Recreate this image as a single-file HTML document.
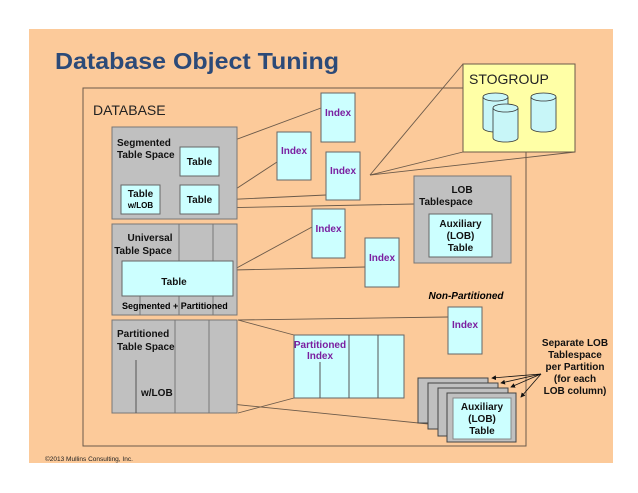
<!DOCTYPE html>
<html><head><meta charset="utf-8"><style>
html,body{margin:0;padding:0;background:#fff;}
svg{display:block;}
text{font-family:"Liberation Sans",Arial,sans-serif;}
.b{font-weight:bold;font-size:10px;fill:#111;}
.ix{font-weight:bold;font-size:10px;fill:#7a1fa0;}
</style></head><body>
<svg width="638" height="493" viewBox="0 0 638 493" xmlns="http://www.w3.org/2000/svg">
<defs><marker id="ar" markerWidth="6" markerHeight="6" refX="5" refY="3" orient="auto"><path d="M0,0 L6,3 L0,6 z" fill="#111"/></marker></defs>
<rect x="29" y="29" width="584" height="434" fill="#fcca9a"/>
<text x="55" y="69" font-family="DejaVu Sans,sans-serif" font-weight="bold" font-size="23" fill="#2c4a78" textLength="284" lengthAdjust="spacingAndGlyphs">Database Object Tuning</text>
<rect x="83" y="88" width="443" height="358" fill="none" stroke="#6b5a4a" stroke-width="1"/>
<text x="93" y="115" font-size="14" fill="#222">DATABASE</text>
<g stroke="#6b5a4a" stroke-width="0.9" fill="none">
<line x1="216" y1="147" x2="321" y2="108"/>
<line x1="219" y1="200" x2="277" y2="162"/>
<line x1="219" y1="200" x2="326" y2="195"/>
<line x1="161" y1="209" x2="414" y2="204"/>
<line x1="233" y1="270" x2="312" y2="227"/>
<line x1="233" y1="270" x2="365" y2="267"/>
<line x1="238" y1="320" x2="448" y2="317"/>
<line x1="238" y1="320" x2="294" y2="335"/>
<line x1="238" y1="413" x2="294" y2="398"/>
<line x1="172" y1="398" x2="448" y2="426"/>
<line x1="370" y1="175" x2="463" y2="64"/>
<line x1="370" y1="175" x2="463" y2="152"/>
<line x1="370" y1="175" x2="575" y2="152"/>
</g>
<!-- STOGROUP -->
<rect x="463" y="64" width="112" height="88" fill="#ffffa6" stroke="#6b5a4a"/>
<text x="469" y="84" font-size="14" fill="#222">STOGROUP</text>
<g fill="#c8f6f8" stroke="#333" stroke-width="0.8">
<path d="M483,97 v31 a12.5,4 0 0 0 25,0 v-31"/><ellipse cx="495.5" cy="97" rx="12.5" ry="4"/>
<path d="M493,108 v30 a12.5,4 0 0 0 25,0 v-30"/><ellipse cx="505.5" cy="108" rx="12.5" ry="4"/>
<path d="M531,97 v31 a12.5,4 0 0 0 25,0 v-31"/><ellipse cx="543.5" cy="97" rx="12.5" ry="4"/>
</g>
<!-- Segmented TS -->
<rect x="112" y="127" width="125" height="92" fill="#c0c0c0" stroke="#777"/>
<text class="b" x="117" y="146">Segmented</text><text class="b" x="117" y="158">Table Space</text>
<rect x="180" y="147" width="39" height="29" fill="#ccffff" stroke="#666"/><text class="b" x="199.5" y="165" text-anchor="middle">Table</text>
<rect x="121" y="185" width="39" height="29" fill="#ccffff" stroke="#666"/><text class="b" x="140.5" y="197" text-anchor="middle">Table</text><text x="140.5" y="208" text-anchor="middle" font-size="8" font-weight="bold">w/LOB</text>
<rect x="180" y="185" width="39" height="29" fill="#ccffff" stroke="#666"/><text class="b" x="199.5" y="203" text-anchor="middle">Table</text>
<!-- Universal -->
<rect x="112" y="224" width="125" height="91" fill="#c0c0c0" stroke="#777"/>
<line x1="179" y1="224" x2="179" y2="315" stroke="#777"/><line x1="213" y1="224" x2="213" y2="315" stroke="#777"/><line x1="140" y1="296" x2="140" y2="315" stroke="#777"/>
<text class="b" x="150" y="241" text-anchor="middle">Universal</text><text class="b" x="143" y="254" text-anchor="middle">Table Space</text>
<rect x="122" y="261" width="111" height="35" fill="#ccffff" stroke="#666"/><text class="b" x="174" y="285" text-anchor="middle">Table</text>
<text x="122" y="309" font-size="9" font-weight="bold">Segmented + Partitioned</text>
<!-- Partitioned TS -->
<rect x="112" y="320" width="125" height="93" fill="#c0c0c0" stroke="#777"/>
<line x1="175" y1="320" x2="175" y2="413" stroke="#777"/><line x1="209" y1="320" x2="209" y2="413" stroke="#777"/><line x1="136" y1="360" x2="136" y2="413" stroke="#555"/>
<text class="b" x="117" y="337">Partitioned</text><text class="b" x="117" y="350">Table Space</text>
<text class="b" x="141" y="396">w/LOB</text>
<!-- Index boxes -->
<g fill="#ccffff" stroke="#666">
<rect x="321" y="93" width="34" height="49"/><rect x="277" y="132" width="34" height="48"/><rect x="326" y="152" width="34" height="48"/>
<rect x="312" y="209" width="33" height="49"/><rect x="365" y="238" width="34" height="49"/><rect x="448" y="307" width="34" height="47"/>
</g>
<text class="ix" x="338" y="116" text-anchor="middle">Index</text>
<text class="ix" x="294" y="154" text-anchor="middle">Index</text>
<text class="ix" x="343" y="174" text-anchor="middle">Index</text>
<text class="ix" x="328.5" y="232" text-anchor="middle">Index</text>
<text class="ix" x="382" y="261" text-anchor="middle">Index</text>
<text class="ix" x="465" y="328" text-anchor="middle">Index</text>
<!-- LOB TS -->
<rect x="414" y="176" width="97" height="87" fill="#c0c0c0" stroke="#777"/>
<text class="b" x="462" y="193" text-anchor="middle">LOB</text><text class="b" x="446" y="205" text-anchor="middle">Tablespace</text>
<rect x="429" y="214" width="63" height="43" fill="#ccffff" stroke="#666"/>
<text class="b" x="460.5" y="227" text-anchor="middle">Auxiliary</text><text class="b" x="460.5" y="239" text-anchor="middle">(LOB)</text><text class="b" x="460.5" y="251" text-anchor="middle">Table</text>
<text x="466" y="299" text-anchor="middle" font-size="10" font-weight="bold" font-style="italic">Non-Partitioned</text>
<!-- Partitioned index -->
<rect x="294" y="335" width="110" height="63" fill="#ccffff" stroke="#666"/>
<line x1="349" y1="335" x2="349" y2="398" stroke="#555"/><line x1="378" y1="335" x2="378" y2="398" stroke="#555"/><line x1="320" y1="362" x2="320" y2="398" stroke="#555"/>
<text class="ix" x="320" y="348" text-anchor="middle">Partitioned</text><text class="ix" x="320" y="359" text-anchor="middle">Index</text>
<!-- stack -->
<g fill="#c0c0c0" stroke="#444">
<rect x="418" y="378" width="70" height="45"/><rect x="428" y="383" width="70" height="46"/><rect x="438" y="388" width="70" height="48"/><rect x="447" y="393" width="69" height="49"/>
</g>
<rect x="453" y="398" width="58" height="41" fill="#ccffff" stroke="#888"/>
<text class="b" x="482" y="410" text-anchor="middle">Auxiliary</text><text class="b" x="482" y="422" text-anchor="middle">(LOB)</text><text class="b" x="482" y="434" text-anchor="middle">Table</text>
<g stroke="#111" stroke-width="0.8" marker-end="url(#ar)">
<line x1="541" y1="374" x2="492" y2="378"/><line x1="541" y1="374" x2="501" y2="383"/><line x1="541" y1="374" x2="511" y2="387"/><line x1="541" y1="374" x2="521" y2="397"/>
</g>
<g class="b" text-anchor="middle">
<text class="b" x="575" y="346">Separate LOB</text><text class="b" x="575" y="358">Tablespace</text><text class="b" x="575" y="370">per Partition</text><text class="b" x="575" y="382">(for each</text><text class="b" x="575" y="394">LOB column)</text>
</g>
<text x="45" y="461" font-size="6.5" fill="#222">©2013 Mullins Consulting, Inc.</text>
</svg>
</body></html>
